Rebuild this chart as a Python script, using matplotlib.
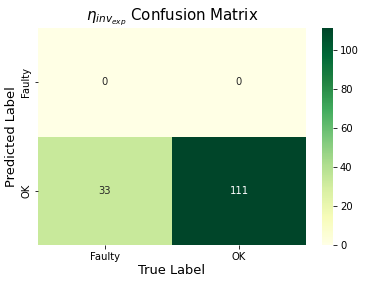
import matplotlib
matplotlib.use("Agg")
import matplotlib.pyplot as plt
import seaborn as sns
import numpy as np

true_labels = ["Faulty", "OK"]
pred_labels = ["Faulty", "OK"]
counts = np.array([[0, 0],
                   [33, 111]])

fig = plt.figure(figsize=(366/72, 283/72), dpi=72)
ax = fig.add_axes([38/366, 1-245/283, 268/366, 217/283])
cax = fig.add_axes([322/366, 1-245/283, 11/366, 217/283])
sns.heatmap(counts, annot=True, fmt="d", cmap="YlGn", ax=ax, cbar_ax=cax,
            xticklabels=true_labels, yticklabels=pred_labels,
            annot_kws={"fontsize": 10})
ax.set_title(r"$\eta_{inv_{exp}}$ Confusion Matrix", fontsize=15)
ax.set_xlabel("True Label", fontsize=13, labelpad=2)
ax.set_ylabel("Predicted Label", fontsize=13, labelpad=3)
ax.tick_params(labelsize=10)
cax.tick_params(labelsize=10)
fig.savefig("out.png", dpi=72, facecolor="white")
